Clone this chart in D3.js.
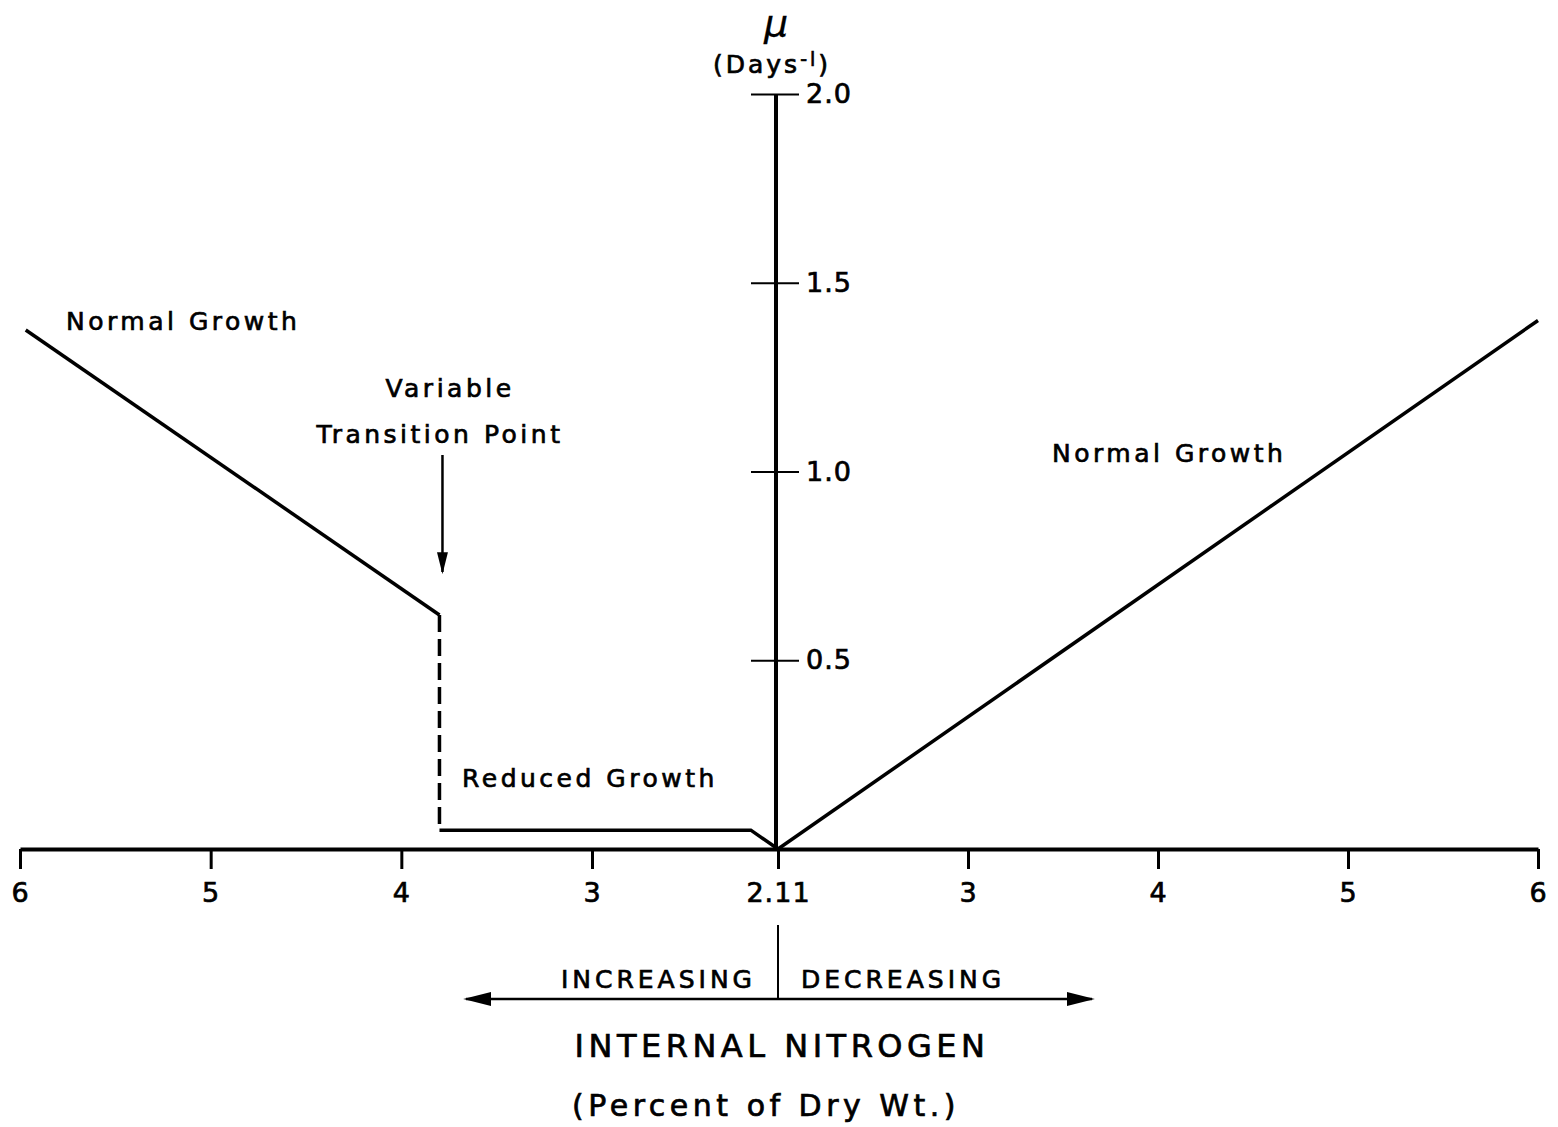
<!DOCTYPE html>
<html>
<head>
<meta charset="utf-8">
<script src="https://cdn.jsdelivr.net/npm/d3@7"></script>
<style>
body{margin:0;background:#fff;}
text{font-family:"DejaVu Sans",sans-serif;fill:#000;stroke:#000;stroke-width:0.7px;}
</style>
</head>
<body>
<div id="root"></div>
<script>
// schematic: growth rate vs internal nitrogen, both sides of 2.11 %
// x values are signed: left half negative (increasing N), right half positive

var xTickVals=[-6,-5,-4,-3,-2.11,3,4,5,6];
var xTickLabels=['6','5','4','3','2.11','3','4','5','6'];
var yTickVals=[0.5,1.0,1.5,2.0];

var normalLeft=[{n:-5.97,mu:1.375},{n:-3.8,mu:0.62}];
var transition=[{n:-3.8,mu:0.62},{n:-3.8,mu:0.05}];
var reduced=[{n:-3.8,mu:0.05},{n:-2.24,mu:0.05},{n:-2.11,mu:0}];
var normalRight=[{n:2.11,mu:0},{n:6,mu:1.4}];

var W=1558,H=1127;

var svg=d3.select('#root').append('svg')
	.attr('width',W)
	.attr('height',H);

// piecewise scale, both 2.11 points meet at the y axis
var scaleX=d3.scaleLinear()
	.domain([-6,-3,-2.11,2.11,3,6])
	.range([20,592,778,778,968,1538]);

var scaleY=d3.scaleLinear()
	.domain([0,2])
	.range([849,94]);

// x axis
var xAxis=d3.axisBottom(scaleX)
	.tickValues(xTickVals)
	.tickFormat(function(d,i){return xTickLabels[i]})
	.tickSize(20)
	.tickSizeOuter(0)
	.tickPadding(14);

var gx=svg.append('g').attr('class','xaxis').attr('transform','translate(0,'+scaleY(0)+')').call(xAxis);
gx.select('.domain').attr('stroke','#000').attr('stroke-width',4);
gx.selectAll('.tick line').attr('stroke','#000').attr('stroke-width',3);
gx.selectAll('.tick text').style('font-size','27px').attr('font-family',null).attr('fill',null)
	.style('letter-spacing','1px');

// y axis (ticks cross the line)
var yAxis=d3.axisRight(scaleY)
	.tickValues(yTickVals)
	.tickFormat(d3.format('.1f'))
	.tickSize(0)
	.tickPadding(30);

var gy=svg.append('g').attr('class','yaxis').attr('transform','translate(776,0)').call(yAxis);
gy.select('.domain').remove();
gy.selectAll('.tick line').attr('x1',-25).attr('x2',23).attr('stroke','#000').attr('stroke-width',2);
gy.selectAll('.tick text').style('font-size','27px').attr('font-family',null).attr('fill',null)
	.style('letter-spacing','1px');
gy.append('line').attr('x1',0).attr('x2',0).attr('y1',scaleY(2)).attr('y2',scaleY(0))
	.attr('stroke','#000').attr('stroke-width',4);

svg.append('text').attr('x',776).attr('y',36).attr('text-anchor','middle')
	.style('font-size','38px').style('font-style','italic').style('stroke-width','0.3px').text('\u03bc');
var days=svg.append('text').attr('x',772).attr('y',73).attr('text-anchor','middle')
	.style('font-size','25px').style('letter-spacing','3px');
days.append('tspan').text('(Days');
days.append('tspan').attr('dy',-7).style('font-size','19px').text('-l');
days.append('tspan').attr('dy',7).text(')');

// curves
var line=d3.line()
	.x(function(d){return scaleX(d.n)})
	.y(function(d){return scaleY(d.mu)});

[normalLeft,reduced,normalRight].forEach(function(seg){
	svg.append('path').attr('d',line(seg)).attr('fill','none')
		.attr('stroke','#000').attr('stroke-width',3.5);
});
svg.append('path').attr('d',line(transition)).attr('fill','none')
	.attr('stroke','#000').attr('stroke-width',3.5).attr('stroke-dasharray','17,7');

// arrow markers
var defs=svg.append('defs');
defs.append('marker').attr('id','head').attr('viewBox','0 0 10 10')
	.attr('refX',9).attr('refY',5).attr('markerWidth',22).attr('markerHeight',11)
	.attr('preserveAspectRatio','none')
	.attr('markerUnits','userSpaceOnUse').attr('orient','auto')
	.append('path').attr('d','M0,0L10,5L0,10z').attr('fill','#000');
defs.append('marker').attr('id','headBig').attr('viewBox','0 0 10 10')
	.attr('refX',9).attr('refY',5).attr('markerWidth',28).attr('markerHeight',14)
	.attr('preserveAspectRatio','none')
	.attr('markerUnits','userSpaceOnUse').attr('orient','auto-start-reverse')
	.append('path').attr('d','M0,0L10,5L0,10z').attr('fill','#000');

// transition arrow
var tx=scaleX(-3.8)+3;
svg.append('line').attr('x1',tx).attr('x2',tx).attr('y1',455).attr('y2',572)
	.attr('stroke','#000').attr('stroke-width',2.5).attr('marker-end','url(#head)');

// labels
function label(x,y,t,size,anchor,ls){
	return svg.append('text').attr('x',x).attr('y',y).attr('text-anchor',anchor||'start')
		.style('font-size',size+'px').style('letter-spacing',(ls==null?3.5:ls)+'px').text(t);
}
label(66,330,'Normal  Growth',25);
label(450,397,'Variable',25,'middle');
label(440,443,'Transition  Point',25,'middle');
label(462,787,'Reduced  Growth',25);
label(1052,462,'Normal  Growth',25);

// direction arrows under axis
svg.append('line').attr('x1',scaleX(2.11)).attr('x2',scaleX(2.11)).attr('y1',925).attr('y2',1000)
	.attr('stroke','#000').attr('stroke-width',2);
svg.append('line').attr('x1',466).attr('x2',1092).attr('y1',999).attr('y2',999)
	.attr('stroke','#000').attr('stroke-width',2.5)
	.attr('marker-start','url(#headBig)').attr('marker-end','url(#headBig)');
label(756,988,'INCREASING',25,'end',4);
label(801,988,'DECREASING',25,'start',4);
label(782,1057,'INTERNAL  NITROGEN',32,'middle',4.5);
label(766,1116,'(Percent  of  Dry  Wt.)',30,'middle',4.5);
</script>
</body>
</html>
